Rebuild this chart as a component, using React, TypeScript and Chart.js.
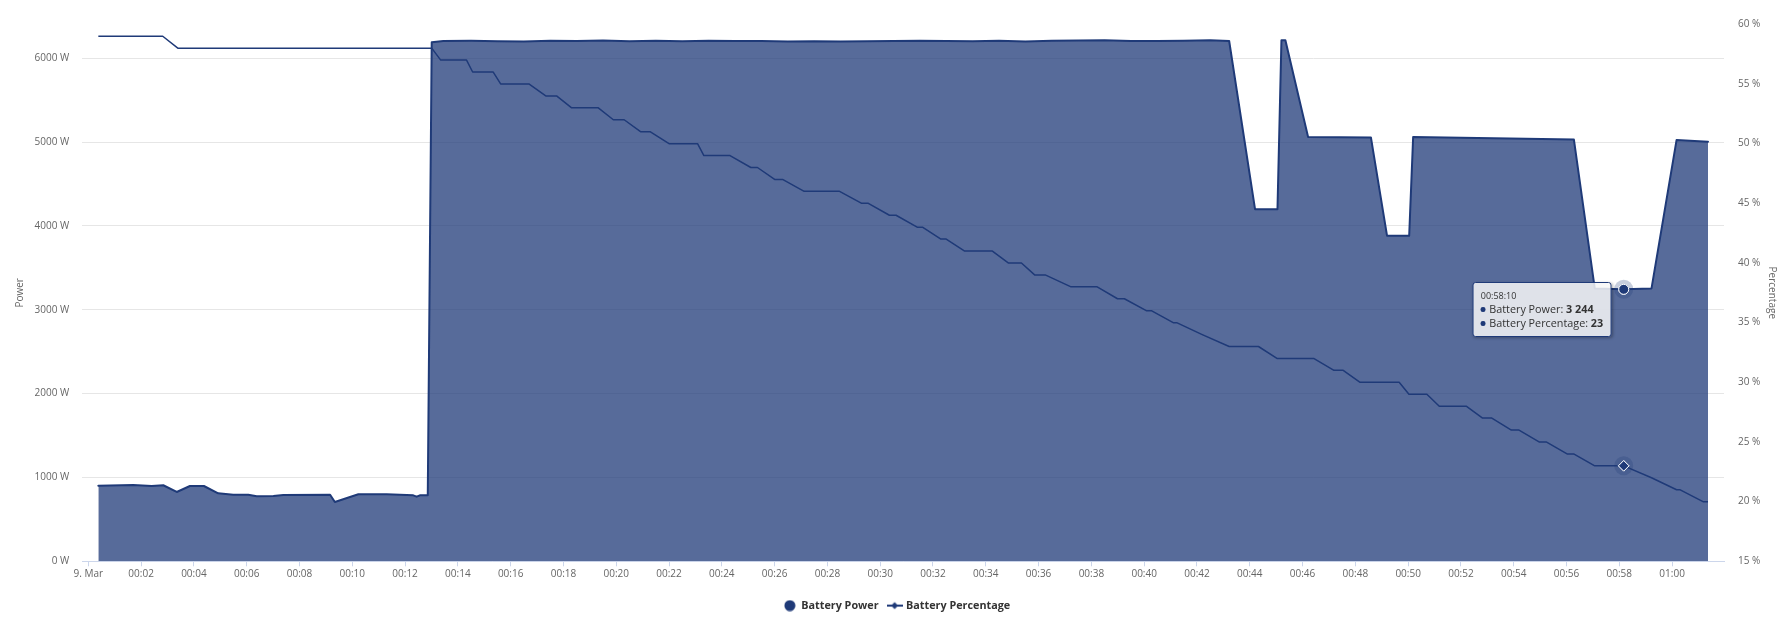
import React, { useEffect, useRef } from 'react';
import { Chart, registerables, Tooltip } from 'chart.js';

Chart.register(...registerables);

const NAVY = '#1f3a78';
const FILL = 'rgba(31,58,120,0.75)';
const FONT = '"Open Sans", "DejaVu Sans", sans-serif';

// time in minutes after 00:00 on 9. Mar
const powerTimes = [
  0.38, 1.7, 2.4, 2.84, 3.35, 3.85, 4.38, 4.92, 5.49, 6.06, 6.38, 7.01, 7.39, 9.16, 9.34, 10.23, 11.3, 12.31, 12.44, 12.56, 12.86,
  13.01, 13.45, 14.5, 15.5, 16.5, 17.5, 18.5, 19.5, 20.5, 21.5, 22.5, 23.5, 24.5, 25.5, 26.5, 27.5, 28.5, 29.5, 30.5, 31.5, 32.5,
  33.5, 34.5, 35.5, 36.5, 37.5, 38.5, 39.5, 40.5, 41.5, 42.5, 43.22, 44.2, 45.05, 45.2, 45.35, 46.21, 48.59, 49.2, 50.04, 50.19,
  56.28, 57.07, 58.1667, 59.22, 60.17, 61.36,
];
const powerValues = [
  902, 910, 898, 907, 827, 898, 898, 811, 794, 794, 775, 779, 791, 794, 707, 799, 799, 787, 771, 787, 787,
  6190, 6205, 6208, 6204, 6200, 6210, 6206, 6212, 6204, 6208, 6204, 6210, 6205, 6206, 6200, 6204, 6200, 6202, 6206, 6210, 6206,
  6204, 6210, 6200, 6210, 6212, 6214, 6206, 6206, 6210, 6216, 6206, 4200, 4200, 6215, 6215, 5062, 5056, 3884, 3884, 5062,
  5030, 3255, 3244, 3255, 5026, 5005,
];

const pctTimes = [
  0.38, 2.82, 3.39, 13.01, 13.35, 14.33, 14.56, 15.34, 15.62, 16.69, 17.33, 17.74, 18.31, 19.32, 19.89, 20.3, 20.92, 21.28, 22.0,
  23.08, 23.32, 24.31, 25.1, 25.35, 26.0, 26.3, 27.12, 28.46, 29.3, 29.55, 30.35, 30.6, 31.4, 31.6, 32.3, 32.5, 33.2, 34.25, 34.85,
  35.35, 35.85, 36.25, 37.23, 38.22, 38.99, 39.25, 40.08, 40.27, 41.1, 41.23, 42.2, 43.22, 44.33, 45.03, 46.42, 47.19, 47.54,
  48.18, 49.66, 50.03, 50.71, 51.18, 52.2, 52.82, 53.17, 53.91, 54.2, 54.96, 55.23, 56.02, 56.27, 57.07, 58.1667, 59.22, 60.17,
  60.29, 61.17, 61.36,
];
const pctValues = [
  59, 59, 58, 58, 57, 57, 56, 56, 55, 55, 54, 54, 53, 53, 52, 52, 51, 51, 50,
  50, 49, 49, 48, 48, 47, 47, 46, 46, 45, 45, 44, 44, 43, 43, 42, 42, 41, 41, 40,
  40, 39, 39, 38, 38, 37, 37, 36, 36, 35, 35, 34, 33, 33, 32, 32, 31, 31,
  30, 30, 29, 29, 28, 28, 27, 27, 26, 26, 25, 25, 24, 24, 23, 23, 22, 21,
  21, 20, 20,
];

const xTickValues = [0, 2, 4, 6, 8, 10, 12, 14, 16, 18, 20, 22, 24, 26, 28, 30, 32, 34, 36, 38, 40, 42, 44, 46, 48, 50, 52, 54, 56, 58, 60];
const xTickLabels = [
  '9. Mar', '00:02', '00:04', '00:06', '00:08', '00:10', '00:12', '00:14', '00:16', '00:18', '00:20', '00:22', '00:24', '00:26',
  '00:28', '00:30', '00:32', '00:34', '00:36', '00:38', '00:40', '00:42', '00:44', '00:46', '00:48', '00:50', '00:52', '00:54',
  '00:56', '00:58', '01:00',
];
const powerTicks = [0, 1000, 2000, 3000, 4000, 5000, 6000];
const pctTicks = [15, 20, 25, 30, 35, 40, 45, 50, 55, 60];

const HOVER_T = 58.1667;

const fmtNum = (v: number) => String(Math.round(v)).replace(/\B(?=(\d{3})+(?!\d))/g, ' ');
const fmtTime = (t: number) => {
  const s = Math.round(t * 60);
  const h = Math.floor(s / 3600);
  const m = Math.floor((s % 3600) / 60);
  const sec = s % 60;
  const p = (n: number) => String(n).padStart(2, '0');
  return `${p(h)}:${p(m)}:${p(sec)}`;
};

(Tooltip as any).positioners.firstPoint = function (items: any[]) {
  if (!items.length) return false;
  const el = items[0].element;
  return { x: el.x, y: el.y };
};

const haloPlugin = {
  id: 'halo',
  afterDatasetsDraw(chart: any) {
    const ctx = chart.ctx;
    chart.getActiveElements().forEach(({ element }: any) => {
      ctx.save();
      ctx.beginPath();
      ctx.arc(element.x, element.y, 9.5, 0, Math.PI * 2);
      ctx.fillStyle = 'rgba(31,58,120,0.25)';
      ctx.fill();
      ctx.restore();
      element.draw(ctx, chart.chartArea);
    });
  },
};

const legendShiftPlugin = {
  id: 'legendShift',
  afterLayout(chart: any) {
    if (chart.legend) {
      chart.legend.left -= 6;
      chart.legend.right -= 6;
    }
  },
};

export default function App() {
  const canvasRef = useRef<HTMLCanvasElement>(null);
  const tipRef = useRef<HTMLDivElement>(null);

  useEffect(() => {
    document.body.style.margin = '0';
    document.body.style.overflow = 'hidden';
    Chart.defaults.font.family = FONT;

    const circle = document.createElement('canvas');
    circle.width = 12;
    circle.height = 12;
    const g1 = circle.getContext('2d')!;
    g1.fillStyle = NAVY;
    g1.beginPath();
    g1.arc(6, 6, 5.5, 0, Math.PI * 2);
    g1.fill();

    const lineMark = document.createElement('canvas');
    lineMark.width = 16;
    lineMark.height = 10;
    const g2 = lineMark.getContext('2d')!;
    g2.strokeStyle = NAVY;
    g2.lineWidth = 2;
    g2.beginPath();
    g2.moveTo(0, 5);
    g2.lineTo(16, 5);
    g2.stroke();
    g2.fillStyle = NAVY;
    g2.beginPath();
    g2.moveTo(8, 1.5);
    g2.lineTo(11.5, 5);
    g2.lineTo(8, 8.5);
    g2.lineTo(4.5, 5);
    g2.closePath();
    g2.fill();

    const powerData = powerTimes.map((t, i) => ({ x: t, y: powerValues[i] }));
    const pctData = pctTimes.map((t, i) => ({ x: t, y: pctValues[i] }));

    const chart = new Chart(canvasRef.current!, {
      type: 'line',
      data: {
        datasets: [
          {
            label: 'Battery Power',
            data: powerData,
            yAxisID: 'y',
            borderColor: NAVY,
            backgroundColor: FILL,
            borderWidth: 2,
            borderJoinStyle: 'round',
            borderCapStyle: 'round',
            fill: 'origin',
            pointRadius: 0,
            pointHitRadius: 0,
            pointHoverRadius: 5,
            pointHoverBackgroundColor: NAVY,
            pointHoverBorderColor: '#ffffff',
            pointHoverBorderWidth: 1,
            order: 2,
          } as any,
          {
            label: 'Battery Percentage',
            data: pctData,
            yAxisID: 'y1',
            borderColor: NAVY,
            backgroundColor: NAVY,
            borderWidth: 1.5,
            borderJoinStyle: 'round',
            fill: false,
            pointStyle: 'rectRot',
            pointRadius: 0,
            pointHitRadius: 0,
            pointHoverRadius: 5.3,
            pointHoverBackgroundColor: NAVY,
            pointHoverBorderColor: '#ffffff',
            pointHoverBorderWidth: 1,
            order: 1,
          } as any,
        ],
      },
      options: {
        responsive: false,
        animation: false,
        events: [],
        layout: { padding: { top: 24.3, left: 0, right: 0, bottom: 0 } },
        scales: {
          x: {
            type: 'linear',
            min: -0.239,
            max: 61.966,
            afterBuildTicks: (s: any) => {
              s.ticks = xTickValues.map((v) => ({ value: v }));
            },
            afterFit: (s: any) => {
              s.height = 28.9;
            },
            ticks: {
              autoSkip: false,
              maxRotation: 0,
              color: '#666666',
              padding: 2,
              font: { size: 10, family: FONT },
              callback: (_v: any, i: number) => xTickLabels[i],
            },
            grid: { display: true, drawOnChartArea: false, drawTicks: true, tickLength: 5, color: '#ccd6eb' },
            border: { display: true, color: '#ccd6eb', width: 1 },
          },
          y: {
            type: 'linear',
            position: 'left',
            min: 0,
            max: 6405,
            afterBuildTicks: (s: any) => {
              s.ticks = powerTicks.map((v) => ({ value: v }));
            },
            afterFit: (s: any) => {
              s.width = 82;
            },
            ticks: {
              color: '#666666',
              padding: 12.7,
              font: { size: 10, family: FONT },
              callback: (v: any) => `${v} W`,
            },
            grid: { color: '#e6e6e6', lineWidth: 1, drawTicks: false },
            border: { display: false },
            title: {
              display: true,
              text: 'Power',
              color: '#666666',
              font: { size: 10, family: FONT },
              padding: { top: 14.4, bottom: 0 },
            },
          },
          y1: {
            type: 'linear',
            position: 'right',
            min: 15,
            max: 60,
            afterBuildTicks: (s: any) => {
              s.ticks = pctTicks.map((v) => ({ value: v }));
            },
            afterFit: (s: any) => {
              s.width = 55;
            },
            ticks: {
              color: '#666666',
              padding: 14,
              font: { size: 10, family: FONT },
              callback: (v: any) => `${v} %`,
            },
            grid: { display: false, drawTicks: false },
            border: { display: false },
            title: {
              display: true,
              text: 'Percentage',
              color: '#666666',
              font: { size: 10, family: FONT },
              padding: { top: 1.3, bottom: 0 },
            },
          },
        },
        plugins: {
          legend: {
            display: true,
            position: 'bottom',
            align: 'center',
            fullSize: false,
            labels: {
              usePointStyle: true,
              pointStyleWidth: 12,
              padding: 10,
              color: '#333333',
              font: { size: 10.8, weight: 'bold', family: FONT },
              generateLabels: () => [
                {
                  text: 'Battery Power',
                  fillStyle: NAVY,
                  strokeStyle: NAVY,
                  lineWidth: 0,
                  hidden: false,
                  pointStyle: circle,
                  datasetIndex: 0,
                  fontColor: '#333333',
                },
                {
                  text: 'Battery Percentage',
                  fillStyle: NAVY,
                  strokeStyle: NAVY,
                  lineWidth: 0,
                  hidden: false,
                  pointStyle: lineMark,
                  datasetIndex: 1,
                  fontColor: '#333333',
                },
              ] as any,
            },
          },
          tooltip: {
            enabled: false,
            position: 'firstPoint' as any,
            external: ({ tooltip }: any) => {
              const el = tipRef.current;
              if (!el) return;
              if (!tooltip || tooltip.opacity === 0 || !tooltip.dataPoints || !tooltip.dataPoints.length) {
                el.style.display = 'none';
                return;
              }
              const pts = tooltip.dataPoints;
              const t = pts[0].parsed.x;
              const bullet = `<span style="display:inline-block;width:4.5px;height:4.5px;border-radius:50%;background:${NAVY};margin-right:4px;vertical-align:middle;position:relative;top:-1px"></span>`;
              el.innerHTML =
                `<div style="font-size:9px;line-height:13px">${fmtTime(t)}</div>` +
                pts
                  .map(
                    (p: any) =>
                      `<div style="font-size:10.8px;line-height:14px">${bullet}${p.dataset.label}: <b>${fmtNum(p.parsed.y)}</b></div>`
                  )
                  .join('');
              el.style.display = 'block';
              el.style.left = `${tooltip.caretX - 12.5}px`;
              el.style.top = `${tooltip.caretY - 7}px`;
            },
          },
        },
      } as any,
      plugins: [haloPlugin, legendShiftPlugin],
    });

    const pi = powerTimes.indexOf(HOVER_T);
    const qi = pctTimes.indexOf(HOVER_T);
    const active = [
      { datasetIndex: 0, index: pi },
      { datasetIndex: 1, index: qi },
    ];
    chart.setActiveElements(active);
    chart.update('none');
    chart.tooltip!.setActiveElements(active, { x: 0, y: 0 });

    return () => {
      chart.destroy();
    };
  }, []);

  return (
    <div
      style={{
        position: 'absolute',
        left: 0,
        top: 0,
        width: 1779,
        height: 617,
        overflow: 'hidden',
        background: '#ffffff',
      }}
    >
      <div style={{ position: 'relative', width: 1779, height: 621 }}>
        <canvas ref={canvasRef} width={1779} height={621} style={{ display: 'block' }} />
        <div
          ref={tipRef}
          style={{
            position: 'absolute',
            display: 'none',
            transform: 'translateX(-100%)',
            background: 'rgba(247,247,247,0.85)',
            border: `1px solid ${NAVY}`,
            borderRadius: 3,
            boxShadow: '1px 1px 3px rgba(0,0,0,0.3)',
            padding: '6px 7px',
            color: '#333333',
            fontFamily: FONT,
            whiteSpace: 'nowrap',
            pointerEvents: 'none',
          }}
        />
      </div>
    </div>
  );
}
